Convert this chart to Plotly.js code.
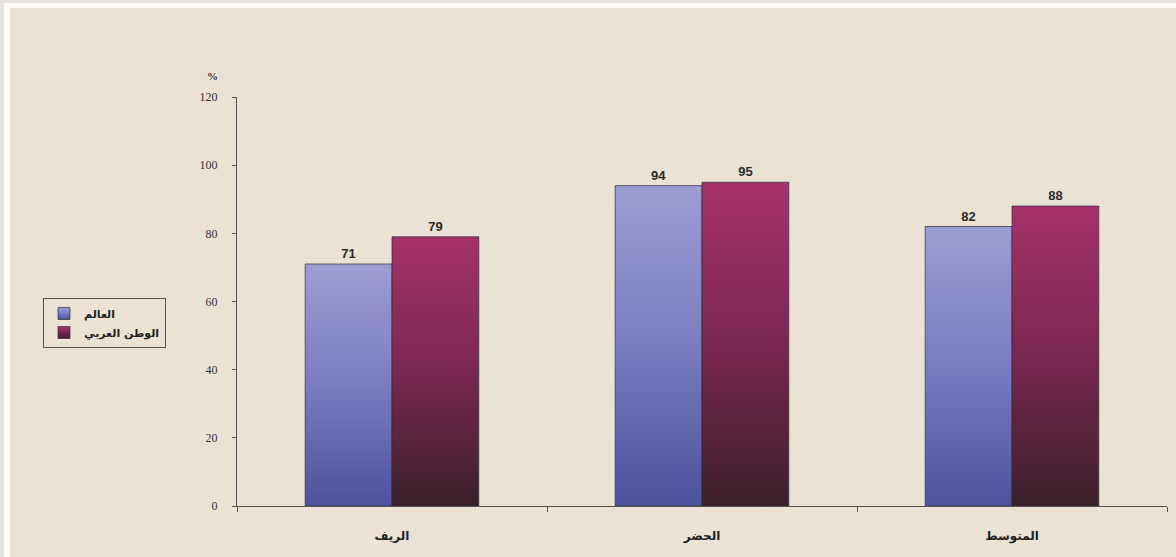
<!DOCTYPE html>
<html>
<head>
<meta charset="utf-8">
<script src="https://cdn.plot.ly/plotly-3.0.1.min.js"></script>
<style>
  html, body { margin: 0; padding: 0; background: #e6e3dc; }
  #frame { position: absolute; left: 4px; top: 3px; width: 1172px; height: 554px;
           border-left: 6px solid #fbfaf7; border-top: 5px solid #fbfaf7; background: #e9e2d5; }
  #chart { width: 1166px; height: 549px; }
</style>
</head>
<body>
<div id="frame"><div id="chart"></div></div>
<script>
// Categories and series (percent)
const categories = ['الريف', 'الحضر', 'المتوسط'];
const worldValues = [71, 94, 82];
const arabValues = [79, 95, 88];
const seriesNames = ['العالم', 'الوطن العربي'];
const yTicks = [0, 20, 40, 60, 80, 100, 120];

const labelFont = { family: 'Liberation Sans, Arial, sans-serif', size: 13, color: '#2a2a2a', weight: 'bold' };

const traces = [
  {
    type: 'bar', name: seriesNames[0], x: categories, y: worldValues,
    marker: { color: '#7a7cc0', line: { color: '#2b2b3a', width: 0.7 } },
    text: worldValues.map(String), textposition: 'outside', textfont: labelFont,
    cliponaxis: false, hoverinfo: 'x+y'
  },
  {
    type: 'bar', name: seriesNames[1], x: categories, y: arabValues,
    marker: { color: '#7a2a50', line: { color: '#2b2b3a', width: 0.7 } },
    text: arabValues.map(String), textposition: 'outside', textfont: labelFont,
    cliponaxis: false, hoverinfo: 'x+y'
  }
];

const layout = {
  width: 1166, height: 549,
  margin: { l: 227, r: 9, t: 89, b: 51 },
  paper_bgcolor: 'rgba(0,0,0,0)', plot_bgcolor: 'rgba(0,0,0,0)',
  barmode: 'group', bargap: 0.44, bargroupgap: 0,
  showlegend: true,
  legend: {
    x: -0.2086, y: 0.5086, xanchor: 'left', yanchor: 'top',
    bgcolor: 'rgba(0,0,0,0)', bordercolor: '#555', borderwidth: 1,
    font: { family: 'DejaVu Sans, sans-serif', size: 11, color: '#222', weight: 'bold' },
    itemwidth: 30, tracegroupgap: 2
  },
  xaxis: {
    type: 'category', tickson: 'boundaries', ticks: 'outside', ticklen: 5, tickcolor: '#555',
    showline: true, linecolor: '#555', linewidth: 1, showgrid: false, zeroline: false,
    tickfont: { family: 'DejaVu Sans, sans-serif', size: 12, color: '#222', weight: 'bold' },
    ticklabelstandoff: 19
  },
  yaxis: {
    range: [0, 120], tickvals: yTicks, ticks: 'outside', ticklen: 4, tickcolor: '#555',
    showline: true, linecolor: '#555', linewidth: 1, showgrid: false, zeroline: false,
    tickfont: { family: 'Liberation Serif, Times New Roman, serif', size: 12, color: '#333' },
    ticklabelstandoff: 12
  },
  annotations: [{
    text: '%', xref: 'paper', yref: 'paper', x: -0.034, y: 1.072,
    showarrow: false, font: { family: 'Liberation Serif, serif', size: 11, color: '#333', weight: 'bold' }
  }]
};

// Vertical gradients for the bar fills
const gradients = [
  { id: 'gradWorld', top: '#9c9dd3', mid: '#7a7cc0', bottom: '#4e519c' },
  { id: 'gradArab', top: '#a6316d', mid: '#7a2850', bottom: '#3a2029' }
];

function applyGradients(gd) {
  const svg = gd.querySelector('svg.main-svg');
  const ns = 'http://www.w3.org/2000/svg';
  let defs = svg.querySelector('defs');
  if (!defs) { defs = document.createElementNS(ns, 'defs'); svg.insertBefore(defs, svg.firstChild); }
  gradients.forEach(g => {
    if (defs.querySelector('#' + g.id)) return;
    const lg = document.createElementNS(ns, 'linearGradient');
    lg.setAttribute('id', g.id);
    lg.setAttribute('x1', '0'); lg.setAttribute('y1', '0');
    lg.setAttribute('x2', '0'); lg.setAttribute('y2', '1');
    [[0, g.top], [0.5, g.mid], [1, g.bottom]].forEach(([o, c]) => {
      const s = document.createElementNS(ns, 'stop');
      s.setAttribute('offset', o); s.setAttribute('stop-color', c);
      lg.appendChild(s);
    });
    defs.appendChild(lg);
  });
  gd.querySelectorAll('.barlayer .trace.bars').forEach((tr, i) => {
    tr.querySelectorAll('path').forEach(p => { p.style.fill = 'url(#' + gradients[i].id + ')'; });
  });
  gd.querySelectorAll('.legend .traces').forEach((tr, i) => {
    tr.querySelectorAll('.legendpoints path').forEach(p => { p.style.fill = 'url(#' + gradients[i].id + ')'; });
  });
}

Plotly.newPlot('chart', traces, layout, { displayModeBar: false, staticPlot: true })
  .then(applyGradients);
</script>
</body>
</html>
